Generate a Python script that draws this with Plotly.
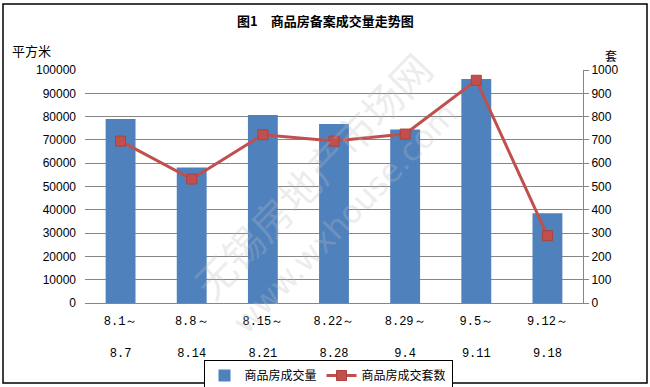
import plotly.graph_objects as go

cats_top = ["8.1～", "8.8～", "8.15～", "8.22～", "8.29～", "9.5～", "9.12～"]
cats_bot = ["8.7", "8.14", "8.21", "8.28", "9.4", "9.11", "9.18"]
area = [79000, 58200, 80700, 76800, 74500, 96100, 38500]
units = [695, 532, 722, 695, 725, 956, 289]
y_left_ticks = list(range(0, 100001, 10000))
y_right_ticks = list(range(0, 1001, 100))

x = list(range(len(cats_top)))
ticktext = [f"{a}<br> <br>{b}" for a, b in zip(cats_top, cats_bot)]

W, H = 650, 387
L, R, T, B = 85, 583, 70, 303

def px(v):
    return (v - L) / (R - L)

def py(v):
    return (B - v) / (B - T)

CJK = "Noto Sans CJK SC"

fig = go.Figure()
fig.add_trace(go.Bar(x=x, y=area, name="商品房成交量", marker=dict(color="#4F81BD", line=dict(width=0)),
                     yaxis="y"))
fig.add_trace(go.Scatter(x=x, y=units, name="商品房成交套数", mode="lines+markers",
                         line=dict(color="#C0504D", width=3),
                         marker=dict(symbol="square", size=10, color="#C0504D",
                                     line=dict(color="#B0403D", width=1)),
                         yaxis="y2"))

fig.update_layout(
    width=W, height=H,
    margin=dict(l=L, r=W - R, t=T, b=H - B, pad=0, autoexpand=False),
    paper_bgcolor="white", plot_bgcolor="white",
    bargap=0.58,
    font=dict(family=CJK, size=12, color="black"),
    showlegend=True,
    legend=dict(orientation="h", x=px(328), xanchor="center", y=py(360), yanchor="top",
                bordercolor="black", borderwidth=1, font=dict(family=CJK, size=12),
                tracegroupgap=0),
    xaxis=dict(tickmode="array", tickvals=x, ticktext=ticktext, range=[-0.5, len(x) - 0.5],
               showgrid=False, showline=True, linecolor="#868686", linewidth=1, automargin=False,
               ticks="", tickfont=dict(family="Liberation Mono", size=12), zeroline=False,
               ticklabelstandoff=7),
    yaxis=dict(range=[0, 100000], tickmode="array", tickvals=y_left_ticks,
               ticktext=[str(v) for v in y_left_ticks], showgrid=True, gridcolor="#868686",
               gridwidth=1, showline=False, ticks="", zeroline=False, automargin=False,
               tickfont=dict(family="Liberation Sans", size=12), ticklabelstandoff=8),
    yaxis2=dict(range=[0, 1000], tickmode="array", tickvals=y_right_ticks,
                ticktext=[str(v) for v in y_right_ticks], overlaying="y", side="right",
                showgrid=False, showline=True, linecolor="#868686", linewidth=1, automargin=False,
                ticks="outside", ticklen=5, tickcolor="#868686", zeroline=False,
                tickfont=dict(family="Liberation Sans", size=12)),
    annotations=[
        dict(text="<b>图1　商品房备案成交量走势图</b>", x=px(325), y=py(20), xref="paper", yref="paper",
             showarrow=False, font=dict(family=CJK, size=13), xanchor="center", yanchor="middle"),
        dict(text="平方米", x=px(31), y=py(50), xref="paper", yref="paper",
             showarrow=False, font=dict(family=CJK, size=13), xanchor="center", yanchor="middle"),
        dict(text="套", x=px(611), y=py(55), xref="paper", yref="paper",
             showarrow=False, font=dict(family=CJK, size=12), xanchor="center", yanchor="middle"),
        dict(text="无锡房地产市场网", x=px(312), y=py(175), xref="paper", yref="paper",
             showarrow=False, textangle=-46, font=dict(family=CJK, size=40, color="rgba(190,190,190,0.28)")),
        dict(text="www.wxhouse.com", x=px(345), y=py(218), xref="paper", yref="paper",
             showarrow=False, textangle=-46, font=dict(family="DejaVu Sans", size=32, color="rgba(190,190,190,0.28)")),
    ],
    shapes=[
        dict(type="rect", xref="paper", yref="paper", x0=px(3), x1=px(647), y0=py(383), y1=py(4),
             line=dict(color="black", width=1.5), layer="below"),
    ],
)

fig.write_html("out.html", config={"displayModeBar": False},
               post_script="document.body.style.margin='0';")
